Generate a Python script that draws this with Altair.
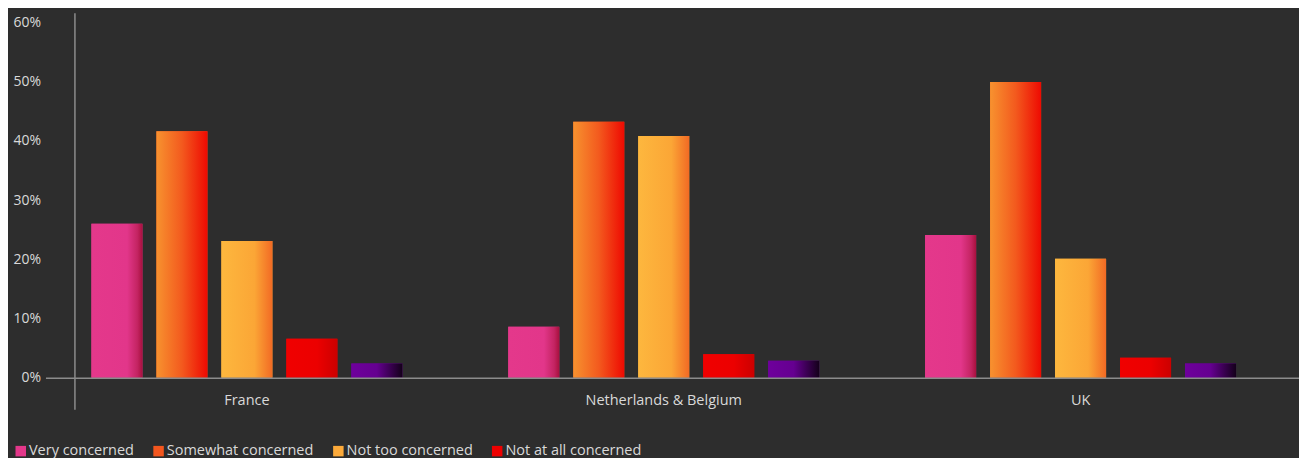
import altair as alt
import pandas as pd

regions = ["France", "Netherlands & Belgium", "UK"]
series = ["Very concerned", "Somewhat concerned", "Not too concerned", "Not at all concerned", "Don't know"]
very = [0.26, 0.086, 0.241]
somewhat = [0.416, 0.432, 0.499]
not_too = [0.231, 0.408, 0.201]
not_at_all = [0.066, 0.040, 0.034]
dont_know = [0.024, 0.029, 0.024]

solid = ["#E3378A", "#F3561E", "#FCAA3A", "#EE0000", "#6C0099"]
grads = [
    [("#E4388B", 0), ("#E2368A", 0.7), ("#C42462", 0.9), ("#A8103E", 1)],
    [("#F7922F", 0), ("#F35A1E", 0.5), ("#EE0A02", 1)],
    [("#FDB73E", 0), ("#FBA636", 0.65), ("#F26A24", 1)],
    [("#F00000", 0), ("#EC0000", 0.6), ("#CC0000", 1)],
    [("#6E009C", 0), ("#650090", 0.5), ("#14001A", 1)],
]

vals = [very, somewhat, not_too, not_at_all, dont_know]
rows = []
for s, v in zip(series, vals):
    for r, x in zip(regions, v):
        rows.append({"region": r, "series": s, "value": x})
df = pd.DataFrame(rows)

FONT = "Open Sans"
TXT = "#d9d9d9"

x_enc = alt.X("region:N", sort=regions, title=None,
              scale=alt.Scale(paddingInner=0, paddingOuter=0),
              axis=alt.Axis(domain=False, ticks=False, labelPadding=16, labelFontSize=14.5,
                            labelColor=TXT, labelFont=FONT, labelAngle=0))
xo_enc = alt.XOffset("series:N", sort=series,
                     scale=alt.Scale(domain=series, paddingInner=0.215, paddingOuter=0.815))
y_enc = alt.Y("value:Q", title=None,
              scale=alt.Scale(domain=[0, 0.6], nice=False),
              axis=alt.Axis(format=".0%", values=[0, 0.1, 0.2, 0.3, 0.4, 0.5, 0.6],
                            domain=False, ticks=False, grid=False, labelPadding=0, offset=-2,
                            labelFontSize=14, labelColor=TXT, labelFont=FONT))

base = alt.Chart(df).mark_bar().encode(
    x=x_enc, xOffset=xo_enc, y=y_enc,
    color=alt.Color("series:N", sort=series,
                    scale=alt.Scale(domain=series, range=solid),
                    legend=alt.Legend(title=None, values=series[:4], orient="none",
                                      direction="horizontal", legendX=-25, legendY=422,
                                      symbolType="square", symbolSize=110,
                                      symbolStrokeWidth=0, labelFontSize=14.5,
                                      labelColor=TXT, labelFont=FONT,
                                      columnPadding=17, labelOffset=1)),
)

layers = [base]
for s, g in zip(series, grads):
    grad = alt.LinearGradient(gradient="linear",
                              stops=[alt.GradientStop(color=c, offset=o) for c, o in g],
                              x1=0, x2=1, y1=0, y2=0)
    layers.append(
        alt.Chart(df).transform_filter(alt.datum.series == s)
        .mark_bar(color=grad).encode(x=x_enc, xOffset=xo_enc, y=y_enc)
    )

AXC = "#8c8c8c"
baseline = alt.Chart(pd.DataFrame({"a": [0]})).mark_rule(color=AXC, strokeWidth=1.5).encode(
    x=alt.value(7.5), x2=alt.value(1262), y=alt.value(356.5))
yline = alt.Chart(pd.DataFrame({"a": [0]})).mark_rule(color=AXC, strokeWidth=1.5).encode(
    x=alt.value(36.5), y=alt.value(-9), y2=alt.value(388))

chart = alt.layer(*layers, baseline, yline).properties(
    width=1252, height=356,
    autosize=alt.AutoSizeParams(type="none"),
    padding={"left": 30.5, "top": 14, "right": 10, "bottom": 80},
    background="#2d2d2d",
).configure_view(stroke=None)

chart.save("out.html", embed_options={"renderer": "svg", "actions": False})
